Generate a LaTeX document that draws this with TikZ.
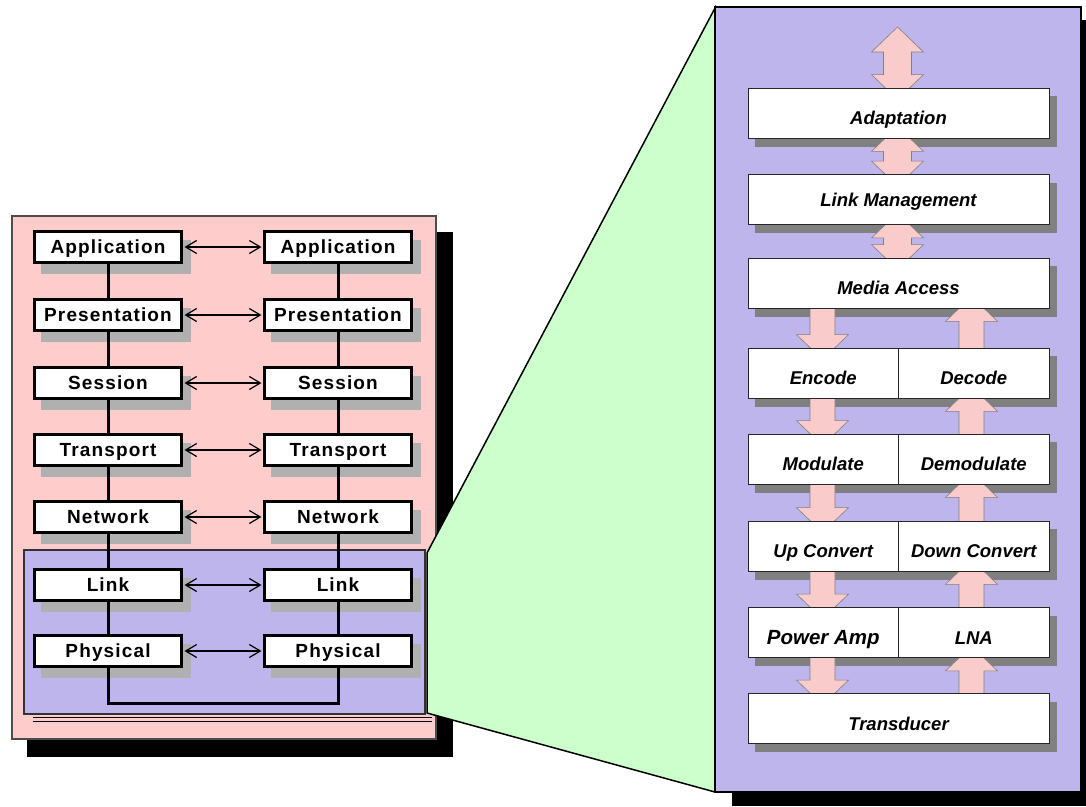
\documentclass[tikz,border=0pt]{standalone}
\usepackage{fontspec}
\setmainfont{Liberation Sans}
\newfontfamily\osifont[LetterSpace=6]{Liberation Sans}
\usetikzlibrary{arrows.meta,calc}
\pgfdeclarelayer{back}
\pgfdeclarelayer{mid}
\pgfsetlayers{back,mid,main}

\definecolor{panelpink}{RGB}{255,204,204}
\definecolor{panellav}{RGB}{189,181,235}
\definecolor{zoomgreen}{RGB}{204,255,204}
\definecolor{arrowpink}{RGB}{249,203,203}
\definecolor{shadelight}{RGB}{176,176,176}
\definecolor{shadedark}{RGB}{128,128,128}

\tikzset{
  osibox/.style={draw, line width=3pt, fill=white, minimum width=147pt,
    minimum height=31pt, inner sep=0pt, text height=13.5pt, text depth=0pt,
    font=\osifont\bfseries\fontsize{19}{21}\selectfont},
  radiobox/.style={draw=black!85, line width=0.8pt, fill=white,
    minimum width=301pt, minimum height=50pt, inner sep=0pt,
    text height=23pt, text depth=0pt,
    font=\bfseries\itshape\fontsize{18.5}{20}\selectfont},
  halfbox/.style={radiobox, minimum width=150.5pt},
  link/.style={line width=3pt},
  peer/.style={line width=1.2pt, shorten <=1.5pt, shorten >=1.5pt,
    {Straight Barb[length=11pt,width=13pt]}-{Straight Barb[length=11pt,width=13pt]}},
  bigarrow/.style={fill=arrowpink, draw=shadedark, line width=0.6pt},
}

% block arrows: x, upper anchor, lower anchor
\newcommand{\dblarrow}[3]{%
  \path[bigarrow] let \p1=(#2), \p2=(#3) in
    (#1,\y1+12pt) -- (#1+26,\y1-13pt) -- (#1+14,\y1-13pt) -- (#1+14,\y2+13pt)
    -- (#1+26,\y2+13pt) -- (#1,\y2-12pt) -- (#1-26,\y2+13pt) -- (#1-14,\y2+13pt)
    -- (#1-14,\y1-13pt) -- (#1-26,\y1-13pt) -- cycle;}
\newcommand{\dnarrow}[3]{%
  \path[bigarrow] let \p1=(#2), \p2=(#3) in
    (#1-12.5,\y1+2pt) -- (#1+12.5,\y1+2pt) -- (#1+12.5,\y2+13pt) -- (#1+26,\y2+13pt)
    -- (#1,\y2-12pt) -- (#1-26,\y2+13pt) -- (#1-12.5,\y2+13pt) -- cycle;}
\newcommand{\uparr}[3]{%
  \path[bigarrow] let \p1=(#2), \p2=(#3) in
    (#1-12.5,\y1-2pt) -- (#1+12.5,\y1-2pt) -- (#1+12.5,\y2-13pt) -- (#1+26,\y2-13pt)
    -- (#1,\y2+12pt) -- (#1-26,\y2-13pt) -- (#1-12.5,\y2-13pt) -- cycle;}

\begin{document}
\begin{tikzpicture}[x=1pt, y=-1pt, line join=miter]
	\useasboundingbox (0,0) rectangle (1086,806);

	% OSI stacks
	\foreach \nm/\txt/\yy in {app/Application/247, pres/Presentation/315,
	  sess/Session/383, trans/Transport/450, net/Network/517,
	  link/Link/585, phys/Physical/651}{
		\node[osibox] (\nm1) at (108,\yy) {\txt};
		\node[osibox] (\nm2) at (338,\yy) {\txt};
		\draw[peer] (\nm1) -- (\nm2);
	}
	\foreach \a/\b in {app/pres, pres/sess, sess/trans, trans/net, net/link, link/phys}
		\draw[link] (\a1) -- (\b1) (\a2) -- (\b2);
	\coordinate (wire) at (0,703);
	\draw[link] (phys1.south) -- (phys1.south |- wire) -| (phys2.south);

	% radio stack
	\node[radiobox] (adapt) at (898.5,113) {Adaptation};
	\node[radiobox, text height=14pt] (lmgmt) at (898.5,199.5) {Link Management};
	\node[radiobox] (mac) at (898.5,283) {Media Access};
	\node[halfbox] (enc) at (823.25,373) {Encode};
	\node[halfbox] (dec) at (973.75,373) {Decode};
	\node[halfbox] (mod) at (823.25,459) {Modulate};
	\node[halfbox] (demod) at (973.75,459) {Demodulate};
	\node[halfbox] (upc) at (823.25,546) {Up Convert};
	\node[halfbox] (dnc) at (973.75,546) {Down Convert};
	\node[halfbox, font=\bfseries\itshape\fontsize{20.5}{22}\selectfont] (pa) at (823.25,632.5) {Power Amp};
	\node[halfbox] (lna) at (973.75,632.5) {LNA};
	\node[radiobox] (xducer) at (898.5,718.5) {Transducer};
	\coordinate (apex) at (897.5,39);

	\begin{pgfonlayer}{mid}
		\dblarrow{897.5}{apex}{adapt.north}
		\dblarrow{897.5}{adapt.south}{lmgmt.north}
		\dblarrow{897.5}{lmgmt.south}{mac.north}
		\dnarrow{822.5}{mac.south}{enc.north}
		\dnarrow{822.5}{enc.south}{mod.north}
		\dnarrow{822.5}{mod.south}{upc.north}
		\dnarrow{822.5}{upc.south}{pa.north}
		\dnarrow{822.5}{pa.south}{xducer.north}
		\uparr{971.5}{xducer.north}{lna.south}
		\uparr{971.5}{lna.north}{dnc.south}
		\uparr{971.5}{dnc.north}{demod.south}
		\uparr{971.5}{demod.north}{dec.south}
		\uparr{971.5}{dec.north}{mac.south}
	\end{pgfonlayer}

	\begin{pgfonlayer}{back}
		% panels
		\fill (27,232) rectangle (453,757);
		\filldraw[fill=panelpink, draw=black!70, line width=1.2pt] (12,216) rectangle (436,739);
		\filldraw[fill=panellav, draw=black!80, line width=1.5pt] (24,550) rectangle (425,714);
		\draw[line width=0.8pt] (33,717) -- (432,717) (33,721) -- (432,721);
		\filldraw[fill=zoomgreen, line width=1.5pt] (427,553) -- (715,8) -- (715,792) -- (427,713) -- cycle;
		\fill (732,20) rectangle (1086,806);
		\filldraw[fill=panellav, line width=2.5pt] (715,7) rectangle (1081,792);
		% box shadows
		\foreach \n in {app,pres,sess,trans,net,link,phys}
			\foreach \s in {1,2}
				\fill[shadelight] ([shift={(8pt,-10pt)}]\n\s.south west)
					rectangle ([shift={(8pt,-10pt)}]\n\s.north east);
		\foreach \n in {adapt,lmgmt,mac,enc,dec,mod,demod,upc,dnc,pa,lna,xducer}
			\fill[shadedark] ([shift={(7.5pt,-8.5pt)}]\n.south west)
				rectangle ([shift={(7.5pt,-8.5pt)}]\n.north east);
	\end{pgfonlayer}
\end{tikzpicture}
\end{document}
